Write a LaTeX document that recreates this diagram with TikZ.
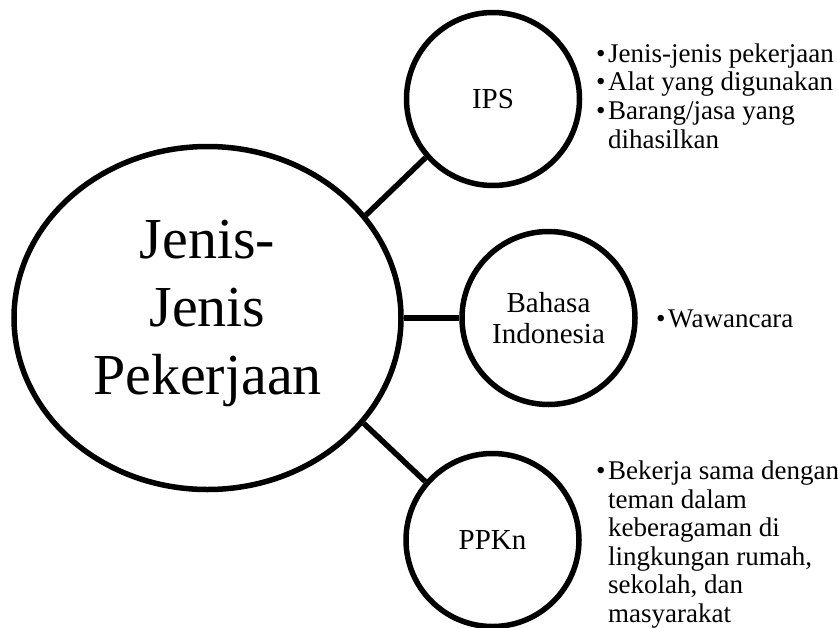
\documentclass[tikz,border=0pt]{standalone}
\usepackage{fontspec}
\setmainfont{Liberation Serif}
\usetikzlibrary{shapes.geometric}

% bullet item with a hanging indent for continuation lines
\newcommand{\bitem}{\makebox[12pt][l]{\textbullet}}
\newcommand{\bcont}{\hspace*{12pt}}

\begin{document}
\begin{tikzpicture}[x=1pt,y=-1pt,
  outline/.style={draw=black,line width=5.5pt},
  topic/.style={outline,circle,minimum size=173pt,inner sep=0pt,align=center,
    font=\fontsize{29}{30.7}\selectfont},
  link/.style={draw=black,line width=5.5pt},
  bigtitle/.style={inner sep=0pt,anchor=base,font=\fontsize{58}{68.3}\selectfont},
  notes/.style={inner sep=0pt,anchor=base west,font=\fontsize{27}{28.6}\selectfont}]

\useasboundingbox (0,0) rectangle (838,627);

% central theme
\node[outline,ellipse,minimum width=387pt,minimum height=343pt,inner sep=0pt] (main) at (207.5,318) {};
\node[bigtitle] (maintext) at (207.5,258.3)
  {\begin{tabular}[t]{@{}c@{}}Jenis-\\Jenis\\Pekerjaan\end{tabular}};

% subject circles
\node[topic] (ips) at (493,99) {IPS};
\node[topic] (bind) at (548.5,318) {Bahasa\\Indonesia};
\node[topic] (ppkn) at (492.5,540) {PPKn};

% connectors
\draw[link] (main.33.8) -- (ips.221);
\draw[link] (main.east) -- (bind.west);
\draw[link] (main.-34.7) -- (ppkn.139.3);

% notes next to each subject
\node[notes] (ipsnotes) at (596,62.3)
  {\begin{tabular}[t]{@{}l@{}}
   \bitem Jenis-jenis pekerjaan\\
   \bitem Alat yang digunakan\\
   \bitem Barang/jasa yang\\
   \bcont dihasilkan
   \end{tabular}};
\node[notes] (bindnotes) at (656,327) {\bitem Wawancara};
\node[notes] (ppknnotes) at (596,479.5)
  {\begin{tabular}[t]{@{}l@{}}
   \bitem Bekerja sama dengan\\
   \bcont teman dalam\\
   \bcont keberagaman di\\
   \bcont lingkungan rumah,\\
   \bcont sekolah, dan\\
   \bcont masyarakat
   \end{tabular}};
\end{tikzpicture}
\end{document}
